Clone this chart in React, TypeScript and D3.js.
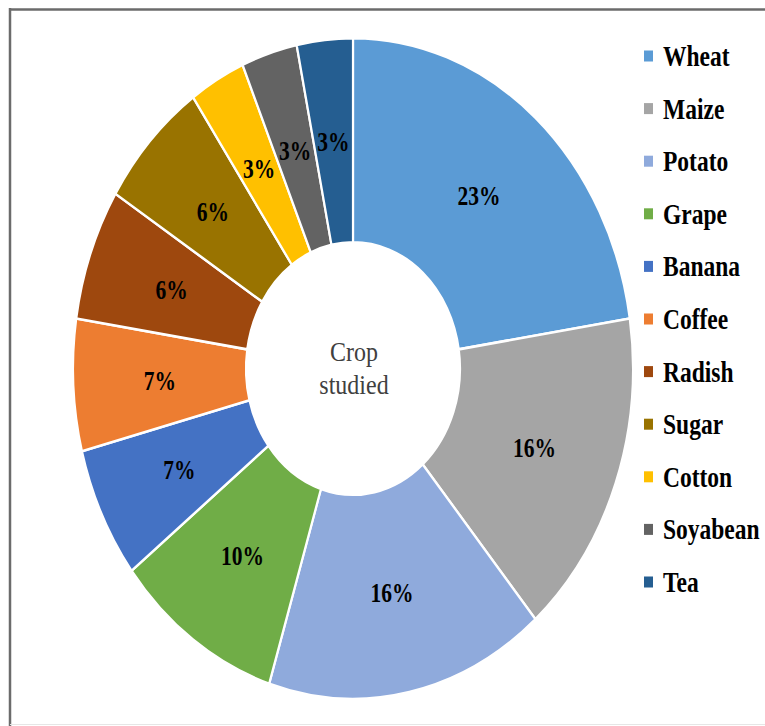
import React from "react";
import * as d3 from "d3";

const crops = ["Wheat", "Maize", "Potato", "Grape", "Banana", "Coffee", "Radish", "Sugar", "Cotton", "Soyabean", "Tea"];
const counts = [7, 5, 5, 3, 2, 2, 2, 2, 1, 1, 1];
const percentLabels = ["23%", "16%", "16%", "10%", "7%", "7%", "6%", "6%", "3%", "3%", "3%"];
const colors = ["#5B9BD5", "#A5A5A5", "#8FAADC", "#70AD47", "#4472C4", "#ED7D31", "#9E480E", "#997300", "#FFC000", "#636363", "#255E91"];
const centerLines = ["Crop", "studied"];

const W = 765;
const H = 726;
const CX = 353;
const CY = 368.5;
const SY = 1.18;
const R_OUT = 280;
const R_IN = 107;

export default function App() {
  const pie = d3.pie<number>().sort(null).value((d) => d)(counts);
  const arc = d3.arc<d3.PieArcDatum<number>>().innerRadius(R_IN).outerRadius(R_OUT);

  const legendY = d3.scalePoint<string>().domain(crops).range([56, 582]);

  return (
    <svg width={W} height={H} style={{ position: "absolute", left: 0, top: 0 }}>
      <rect x={0} y={0} width={W} height={H} fill="#fff" />
      {/* frame */}
      <line x1={10} y1={9.5} x2={W} y2={9.5} stroke="#6b6b6b" strokeWidth={2.5} />
      <line x1={10} y1={8} x2={10} y2={H} stroke="#6b6b6b" strokeWidth={2.5} />
      <line x1={10} y1={724.5} x2={W} y2={724.5} stroke="#e6e6e6" strokeWidth={1} />

      <g transform={`translate(${CX},${CY}) scale(1,${SY})`}>
        {pie.map((d, i) => (
          <path
            key={crops[i]}
            d={arc(d) || ""}
            fill={colors[i]}
            stroke="#fff"
            strokeWidth={2.2}
            strokeLinejoin="round"
          />
        ))}
      </g>

      {pie.map((d, i) => {
        const [x, y] = arc.centroid(d);
        const px = CX + x;
        const py = CY + y * SY;
        return (
          <text
            key={"l" + i}
            transform={`translate(${px},${py}) scale(1,1.3)`}
            textAnchor="middle"
            dominantBaseline="central"
            fontFamily="'Liberation Serif', 'Times New Roman', serif"
            fontWeight="bold"
            fontSize={21.5}
            fill="#000"
          >
            {percentLabels[i]}
          </text>
        );
      })}

      {centerLines.map((t, i) => (
        <text
          key={t}
          transform={`translate(${CX + 1},${361 + i * 33}) scale(1,1.12)`}
          textAnchor="middle"
          fontFamily="'Liberation Serif', 'Times New Roman', serif"
          fontSize={24}
          fill="#404040"
        >
          {t}
        </text>
      ))}

      {crops.map((c, i) => {
        const y = legendY(c) as number;
        return (
          <g key={"lg" + c}>
            <rect x={644} y={y - 5.5} width={9} height={11} fill={colors[i]} />
            <text
              transform={`translate(663,${y}) scale(1,1.25)`}
              dominantBaseline="central"
              fontFamily="'Liberation Serif', 'Times New Roman', serif"
              fontWeight="bold"
              fontSize={23.5}
              fill="#000"
            >
              {c}
            </text>
          </g>
        );
      })}
    </svg>
  );
}
